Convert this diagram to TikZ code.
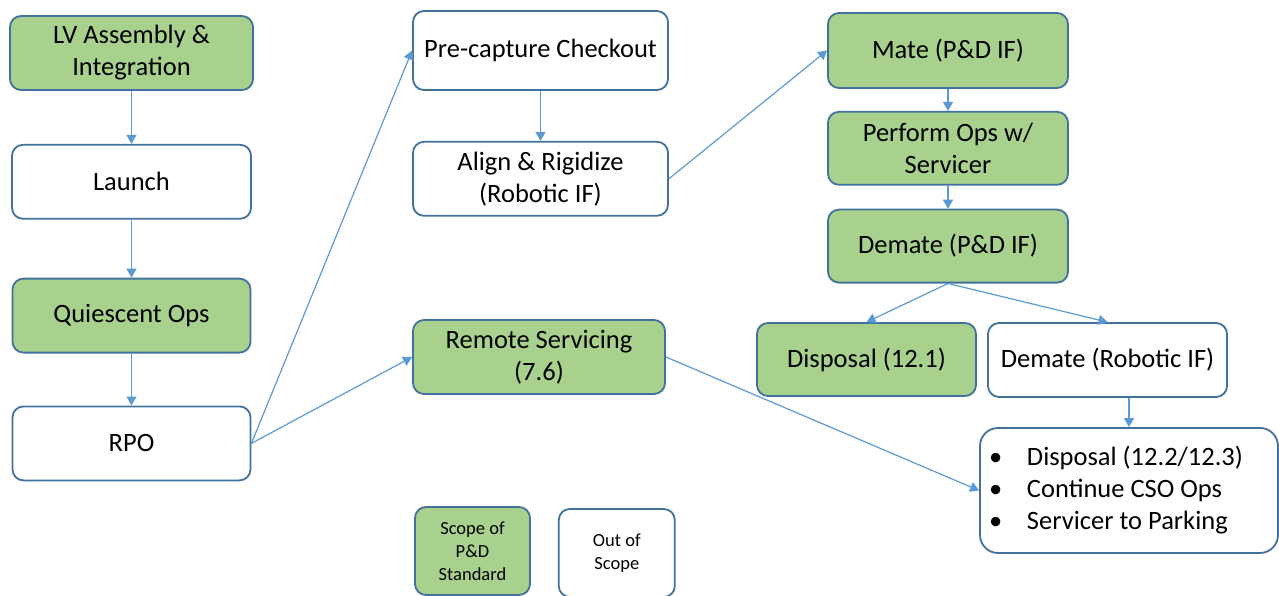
\documentclass[tikz,border=0pt]{standalone}
\usepackage{fontspec}
\setmainfont{Carlito}
\usetikzlibrary{positioning,calc,arrows.meta}
\newcommand{\restitem}[1]{\makebox[280pt][l]{\makebox[38pt][l]{\textbullet}#1}}
\definecolor{scopefill}{RGB}{169,209,142}
\definecolor{boxline}{RGB}{65,113,156}
\definecolor{arrline}{RGB}{91,155,213}

\begin{document}
\begin{tikzpicture}[x=1pt, y=-1pt,
  font=\fontsize{26.5}{32}\selectfont,
  box/.style={draw=boxline, line width=1.8pt, rounded corners=11pt, fill=white, align=center, inner sep=0pt, minimum width=240pt, minimum height=74pt},
  scope/.style={box, fill=scopefill},
  key/.style={box, font=\fontsize{18.5}{23}\selectfont, minimum width=115pt, minimum height=88pt},
  arr/.style={-{Triangle[length=9pt,width=10pt]}, line width=1.2pt, arrline}]
\useasboundingbox (0,0) rectangle (1279,596);

% left column: up to the rendezvous
\node[scope, minimum width=243pt] (lv) at (131.5,53) {LV Assembly \&\\Integration};
\node[box, minimum width=239pt, below=53pt of lv] (launch) {Launch};
\node[scope, minimum width=238pt, below=58pt of launch] (quiet) {Quiescent Ops};
\node[box, minimum width=238pt, below=52pt of quiet] (rpo) {RPO};
\draw[arr] (lv.south) -- (launch.north); \draw[arr] (launch) -- (quiet); \draw[arr] (quiet) -- (rpo);

% middle column: capture or remote servicing
\node[box, minimum width=255pt, minimum height=79pt] (pre) at (540.5,50.5) {Pre-capture Checkout};
\node[box, minimum width=255pt, below=50pt of pre] (align) {Align \& Rigidize\\(Robotic IF)};
\node[scope, minimum width=252pt] (remote) at (539,357) {Remote Servicing\\(7.6)};
\draw[arr] (rpo.east) -- (pre.west); \draw[arr] (rpo.east) -- (remote.west);
\draw[arr] (pre) -- (align);

% right column: mated operations and after
\node[scope, minimum height=75pt] (mate) at (948,50.5) {Mate (P\&D IF)};
\node[scope, minimum height=73pt, below=22pt of mate] (perform) {Perform Ops w/\\Servicer};
\node[scope, minimum height=73pt, below=23pt of perform] (demate) {Demate (P\&D IF)};
\node[scope, minimum width=219pt, minimum height=73pt] (disp) at (866.5,359.5) {Disposal (12.1)};
\node[box, minimum width=239pt] (demrob) at (1107.5,360) {Demate (Robotic IF)};
\node[box, rounded corners=18pt, minimum width=298pt, minimum height=125pt, align=left] (rest) at (1129,490.5)
  {\restitem{Disposal (12.2/12.3)}\\\restitem{Continue CSO Ops}\\\restitem{Servicer to Parking}};
\draw[arr] (align.east) -- (mate.west);
\draw[arr] (mate) -- (perform); \draw[arr] (perform) -- (demate);
\draw[arr] (demate.south) -- (disp.north); \draw[arr] (demate.south) -- (demrob.north);
\draw[arr] (demrob.south -| rest.north) -- (rest.north);
\draw[arr] (remote.east) -- (rest.west);

% legend
\node[key, fill=scopefill] (l1) at (472.5,551) {Scope of\\P\&D\\Standard};
\node[key, minimum width=116pt, right=27pt of l1, yshift=-2pt] (l2) {Out of\\Scope};
\end{tikzpicture}
\end{document}
